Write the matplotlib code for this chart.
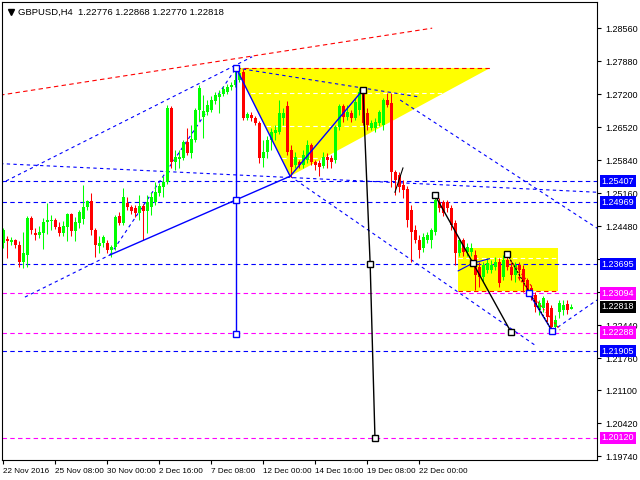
import matplotlib.pyplot as plt
from matplotlib.patches import Polygon, Rectangle

# GBPUSD H4 candles
opens = [1.2413, 1.2422, 1.2416, 1.2420, 1.2409, 1.2374, 1.2389, 1.2465, 1.2434, 1.2430,
         1.2434, 1.2457, 1.2459, 1.2461, 1.2447, 1.2434, 1.2447, 1.2473, 1.2438, 1.2455,
         1.2463, 1.2488, 1.2500, 1.2440, 1.2407, 1.2413, 1.2413, 1.2399, 1.2405, 1.2469,
         1.2455, 1.2496, 1.2488, 1.2486, 1.2475, 1.2490, 1.2479, 1.2488, 1.2498, 1.2516,
         1.2529, 1.2539, 1.2691, 1.2580, 1.2586, 1.2589, 1.2622, 1.2599, 1.2626, 1.2687,
         1.2673, 1.2683, 1.2687, 1.2706, 1.2714, 1.2720, 1.2725, 1.2735, 1.2739, 1.2749,
         1.2766, 1.2671, 1.2677, 1.2671, 1.2661, 1.2589, 1.2601, 1.2626, 1.2640, 1.2642,
         1.2671, 1.2696, 1.2605, 1.2574, 1.2580, 1.2574, 1.2584, 1.2615, 1.2580, 1.2578,
         1.2572, 1.2591, 1.2589, 1.2584, 1.2652, 1.2696, 1.2673, 1.2681, 1.2671, 1.2687,
         1.2723, 1.2681, 1.2650, 1.2650, 1.2661, 1.2657, 1.2708, 1.2702, 1.2560, 1.2554,
         1.2533, 1.2525, 1.2481, 1.2440, 1.2420, 1.2403, 1.2420, 1.2420, 1.2436, 1.2498,
         1.2498, 1.2498, 1.2486, 1.2455, 1.2393, 1.2420, 1.2395, 1.2395, 1.2389, 1.2364,
         1.2344, 1.2358, 1.2358, 1.2364, 1.2374, 1.2344, 1.2378, 1.2364, 1.2348, 1.2368,
         1.2360, 1.2337, 1.2321, 1.2306, 1.2275, 1.2280, 1.2290, 1.2280, 1.2241, 1.2271,
         1.2275, 1.2288, 1.22776]
highs = [1.2444, 1.2428, 1.2426, 1.2422, 1.2418, 1.2436, 1.2469, 1.2469, 1.2444, 1.2449,
         1.2465, 1.2496, 1.2471, 1.2465, 1.2457, 1.2459, 1.2475, 1.2475, 1.2467, 1.2481,
         1.2533, 1.2502, 1.2516, 1.2444, 1.2428, 1.2430, 1.2420, 1.2409, 1.2471, 1.2477,
         1.2527, 1.2508, 1.2492, 1.2492, 1.2512, 1.2494, 1.2512, 1.2519, 1.2539, 1.2537,
         1.2552, 1.2698, 1.2695, 1.2605, 1.2605, 1.2626, 1.2650, 1.2657, 1.2691, 1.2739,
         1.2718, 1.2708, 1.2716, 1.2725, 1.2729, 1.2737, 1.2741, 1.2745, 1.2770, 1.2776,
         1.2772, 1.2683, 1.2683, 1.2675, 1.2665, 1.2626, 1.2634, 1.2650, 1.2657, 1.2708,
         1.2691, 1.2706, 1.2615, 1.2601, 1.2584, 1.2605, 1.2626, 1.2619, 1.2584, 1.2584,
         1.2601, 1.2599, 1.2595, 1.2657, 1.2700, 1.2700, 1.2698, 1.2687, 1.2712, 1.2733,
         1.2729, 1.2691, 1.2667, 1.2671, 1.2687, 1.2712, 1.2723, 1.2723, 1.2564, 1.2560,
         1.2543, 1.2531, 1.2492, 1.2451, 1.2430, 1.2434, 1.2436, 1.2444, 1.2512, 1.2506,
         1.2502, 1.2502, 1.2492, 1.2461, 1.2424, 1.2424, 1.2413, 1.2413, 1.2399, 1.2374,
         1.2374, 1.2383, 1.2378, 1.2385, 1.2383, 1.2389, 1.2395, 1.2374, 1.2374, 1.2374,
         1.2368, 1.2342, 1.2327, 1.2313, 1.2296, 1.2304, 1.2296, 1.2286, 1.2265, 1.2296,
         1.2296, 1.2296, 1.22868]
lows = [1.2403, 1.2383, 1.2409, 1.2403, 1.2364, 1.2362, 1.2364, 1.2432, 1.2420, 1.2424,
        1.2401, 1.2432, 1.2440, 1.2442, 1.2428, 1.2428, 1.2418, 1.2428, 1.2418, 1.2444,
        1.2453, 1.2481, 1.2430, 1.2385, 1.2393, 1.2405, 1.2393, 1.2385, 1.2399, 1.2451,
        1.2451, 1.2481, 1.2473, 1.2467, 1.2461, 1.2420, 1.2434, 1.2471, 1.2492, 1.2510,
        1.2508, 1.2535, 1.2568, 1.2564, 1.2568, 1.2584, 1.2595, 1.2589, 1.2622, 1.2665,
        1.2630, 1.2677, 1.2683, 1.2700, 1.2681, 1.2716, 1.2720, 1.2729, 1.2735, 1.2745,
        1.2667, 1.2667, 1.2665, 1.2657, 1.2578, 1.2570, 1.2589, 1.2605, 1.2626, 1.2638,
        1.2657, 1.2595, 1.2549, 1.2568, 1.2568, 1.2568, 1.2578, 1.2574, 1.2564, 1.2552,
        1.2568, 1.2568, 1.2568, 1.2578, 1.2646, 1.2663, 1.2667, 1.2663, 1.2667, 1.2677,
        1.2657, 1.2646, 1.2646, 1.2642, 1.2655, 1.2646, 1.2694, 1.2529, 1.2512, 1.2519,
        1.2506, 1.2447, 1.2374, 1.2413, 1.2383, 1.2395, 1.2413, 1.2403, 1.2430, 1.2477,
        1.2469, 1.2477, 1.2440, 1.2368, 1.2387, 1.2387, 1.2387, 1.2387, 1.2317, 1.2323,
        1.2333, 1.2352, 1.2352, 1.2358, 1.2323, 1.2337, 1.2358, 1.2337, 1.2333, 1.2337,
        1.2313, 1.2306, 1.2296, 1.2271, 1.2265, 1.2271, 1.2251, 1.2234, 1.2234, 1.2259,
        1.2265, 1.2267, 1.22770]
closes = [1.2440, 1.2418, 1.2420, 1.2409, 1.2374, 1.2393, 1.2465, 1.2440, 1.2430, 1.2436,
          1.2457, 1.2461, 1.2461, 1.2447, 1.2434, 1.2449, 1.2473, 1.2438, 1.2457, 1.2477,
          1.2488, 1.2500, 1.2440, 1.2409, 1.2413, 1.2426, 1.2399, 1.2405, 1.2467, 1.2455,
          1.2508, 1.2488, 1.2479, 1.2475, 1.2490, 1.2479, 1.2498, 1.2508, 1.2519, 1.2531,
          1.2539, 1.2691, 1.2580, 1.2591, 1.2591, 1.2622, 1.2599, 1.2628, 1.2687, 1.2733,
          1.2685, 1.2698, 1.2708, 1.2718, 1.2720, 1.2731, 1.2735, 1.2739, 1.2749, 1.2764,
          1.2671, 1.2679, 1.2671, 1.2661, 1.2589, 1.2601, 1.2626, 1.2642, 1.2646, 1.2681,
          1.2681, 1.2601, 1.2570, 1.2591, 1.2574, 1.2595, 1.2615, 1.2580, 1.2574, 1.2570,
          1.2591, 1.2584, 1.2580, 1.2652, 1.2696, 1.2673, 1.2683, 1.2671, 1.2704, 1.2725,
          1.2661, 1.2657, 1.2661, 1.2663, 1.2683, 1.2708, 1.2698, 1.2560, 1.2543, 1.2529,
          1.2523, 1.2461, 1.2436, 1.2420, 1.2399, 1.2426, 1.2430, 1.2440, 1.2502, 1.2486,
          1.2475, 1.2486, 1.2451, 1.2393, 1.2420, 1.2395, 1.2405, 1.2403, 1.2348, 1.2344,
          1.2368, 1.2372, 1.2368, 1.2374, 1.2331, 1.2378, 1.2364, 1.2348, 1.2368, 1.2358,
          1.2333, 1.2317, 1.2302, 1.2282, 1.2290, 1.2300, 1.2261, 1.2241, 1.2255, 1.2290,
          1.2286, 1.2275, 1.22818]

date_labels = ['22 Nov 2016', '25 Nov 08:00', '30 Nov 00:00', '2 Dec 16:00', '7 Dec 08:00',
               '12 Dec 00:00', '14 Dec 16:00', '19 Dec 08:00', '22 Dec 00:00']
date_bars = [0, 13, 26, 39, 52, 65, 78, 91, 104]
price_ticks = [1.28560, 1.27880, 1.27200, 1.26520, 1.25840, 1.25160, 1.24480, 1.23800,
               1.23120, 1.22440, 1.21760, 1.21100, 1.20420, 1.19740]
hidden_ticks = [1.23800, 1.23120]  # covered by the level boxes

blue_levels = [1.25407, 1.24969, 1.23695, 1.21905]
magenta_levels = [1.23094, 1.22288, 1.20120]
last_price = 1.22818

# analysis objects, (bar, price) anchors
red_trend = [(-0.8, 1.2718), (107.2, 1.2856)]
triangle = [(58.2, 1.2774), (121.7, 1.2774), (71.7, 1.2551)]
triangle_levels = [1.2722, 1.2654, 1.2589]
box_bars = (113.7, 138.7)
box_prices = (1.2315, 1.2403)
box_level = 1.2383
blue_vertical = [(58.2, 1.2774), (58.2, 1.2502), (58.2, 1.2226)]
blue_path = [(26.7, 1.2389), (71.7, 1.2551), (89.9, 1.2729)]
blue_leg = [(58.2, 1.2774), (71.7, 1.2551)]
black_drop1 = [(89.9, 1.2729), (91.7, 1.2370), (92.9, 1.2012)]
black_drop2 = [(107.9, 1.2512), (117.4, 1.2372), (126.9, 1.2230)]
black_leg = [(125.9, 1.2391), (137.2, 1.2232)]
black_tick = [(97.9, 1.2518), (99.9, 1.2568)]
blue_leg2 = [(131.4, 1.2310), (137.2, 1.2232)]
blue_leg3 = [(113.7, 1.2356), (117.4, 1.2372), (121.5, 1.2381)]
red_zigzag = [
    [(126.7, 1.2378), (132.2, 1.2323)],
    [(128.7, 1.2343), (139.2, 1.2234)],
]
dashed_lines = [
    [(71.7, 1.2551), (132.9, 1.2203)],
    [(58.2, 1.2774), (104.2, 1.2714)],
    [(-0.8, 1.2535), (62.2, 1.2797)],
    [(26.7, 1.2389), (58.2, 1.2774)],
    [(-0.8, 1.2577), (148.4, 1.2518)],
    [(5.4, 1.2302), (26.7, 1.2389)],
    [(99.2, 1.2708), (148.4, 1.2444)],
    [(137.2, 1.2232), (148.4, 1.2296)],
]

BLUE = '#0000ff'
MAGENTA = '#ff00ff'
FONT = ['Liberation Sans', 'DejaVu Sans']

fig = plt.figure(figsize=(6.4, 4.8), dpi=100)
ax = fig.add_axes([2 / 640, 20 / 480, 595 / 640, 458 / 480])
ax.set_xlim(-0.325, 148.4)
ax.set_ylim(1.19664, 1.29099)

# yellow objects in the background
ax.add_patch(Polygon(triangle, closed=True, facecolor='#ffff00', edgecolor='none', zorder=0))
ax.add_patch(Rectangle((box_bars[0], box_prices[0]), box_bars[1] - box_bars[0],
                       box_prices[1] - box_prices[0], facecolor='#ffff00', edgecolor='none', zorder=0))
tri_clip = Polygon(triangle, closed=True, transform=ax.transData)
for lv in triangle_levels:
    ln, = ax.plot([58, 122], [lv, lv], color='white', lw=0.8, dashes=(4, 3), zorder=0.5)
    ln.set_clip_path(tri_clip)
ax.plot([triangle[0][0], triangle[1][0]], [triangle[0][1], triangle[1][1]],
        color='red', lw=0.8, dashes=(4, 3), zorder=0.5)
ax.plot(box_bars, [box_level, box_level], color='white', lw=0.8, dashes=(4, 3), zorder=0.5)
ax.plot(box_bars, [box_prices[0], box_prices[0]], color='red', lw=0.8, dashes=(4, 3), zorder=0.5)

# horizontal levels
for lv in blue_levels:
    ax.axhline(lv, color=BLUE, lw=0.8, dashes=(4, 3), zorder=1)
for lv in magenta_levels:
    ax.axhline(lv, color=MAGENTA, lw=0.8, dashes=(4, 3), zorder=1)

ax.plot(*zip(*red_trend), color='red', lw=0.8, dashes=(4, 3), zorder=1)
for seg in dashed_lines:
    ax.plot(*zip(*seg), color=BLUE, lw=0.8, dashes=(3, 3), zorder=1)

# candles
x = list(range(len(opens)))
cols = ['#00ff00' if c >= o else '#ff0000' for o, c in zip(opens, closes)]
ax.vlines(x, lows, highs, colors=cols, lw=0.75, zorder=2)
ax.bar(x, [max(abs(c - o), 0.00008) for o, c in zip(opens, closes)],
       bottom=[min(o, c) for o, c in zip(opens, closes)], width=0.75, color=cols, zorder=2)

# wave lines with square markers
for seg in red_zigzag:
    ax.plot(*zip(*seg), color='red', lw=0.8, dashes=(2, 2), zorder=3)
ax.plot(*zip(*blue_vertical), color=BLUE, lw=1, zorder=3)
ax.plot(*zip(*blue_path), color=BLUE, lw=1, zorder=3)
ax.plot(*zip(*blue_leg), color=BLUE, lw=1, zorder=3)
ax.plot(*zip(*blue_leg2), color=BLUE, lw=1, zorder=3)
ax.plot(*zip(*blue_leg3), color=BLUE, lw=0.8, zorder=3)
ax.plot(*zip(*black_drop1), color='black', lw=1, zorder=3)
ax.plot(*zip(*black_drop2), color='black', lw=1, zorder=3)
ax.plot(*zip(*black_tick), color='black', lw=0.8, zorder=3)
ax.plot(*zip(*black_leg), color='black', lw=0.8, dashes=(2, 1), zorder=3)
sq = dict(marker='s', ms=4, mfc='white', lw=0, zorder=4)
ax.plot(*zip(*blue_vertical), mec=BLUE, **sq)
ax.plot(*zip(*black_drop1), mec='black', **sq)
ax.plot(*zip(*black_drop2), mec='black', **sq)
ax.plot([black_leg[0][0]], [black_leg[0][1]], mec='black', **sq)
ax.plot([blue_leg2[0][0], blue_leg2[1][0]], [blue_leg2[0][1], blue_leg2[1][1]], mec=BLUE, **sq)

# axes styling
for side in ['left', 'top', 'right', 'bottom']:
    ax.spines[side].set_linewidth(0.8)
ax.yaxis.tick_right()
ax.set_yticks(price_ticks)
ax.set_yticklabels(['' if p in hidden_ticks else '%.5f' % p for p in price_ticks])
ax.set_xticks(date_bars)
ax.set_xticklabels(date_labels, ha='left')
ax.tick_params(axis='both', direction='out', length=3, width=0.8, labelsize=6.5)
ax.tick_params(axis='y', pad=3)
ax.tick_params(axis='x', pad=3, labelsize=5.9)
for lab in ax.get_xticklabels() + ax.get_yticklabels():
    lab.set_fontfamily(FONT)

tr = ax.get_yaxis_transform()
for lv in blue_levels:
    ax.text(1.008, lv, '%.5f' % lv, transform=tr, color='white', fontsize=6.5, va='center',
            family=FONT, bbox=dict(facecolor=BLUE, edgecolor='none', pad=1.2), zorder=5)
for lv in magenta_levels:
    ax.text(1.008, lv, '%.5f' % lv, transform=tr, color='white', fontsize=6.5, va='center',
            family=FONT, bbox=dict(facecolor=MAGENTA, edgecolor='none', pad=1.2), zorder=5)
ax.text(1.008, last_price, '%.5f' % last_price, transform=tr, color='white', fontsize=6.5,
        va='center', family=FONT,
        bbox=dict(facecolor='black', edgecolor='none', pad=1.2), zorder=5)

ax.plot([0.015], [0.978], marker='v', color='black', ms=4, transform=ax.transAxes, clip_on=False)
ax.text(0.027, 0.978, 'GBPUSD,H4  1.22776 1.22868 1.22770 1.22818', transform=ax.transAxes,
        fontsize=6.8, va='center', family=FONT)

fig.savefig('out.png', dpi=100, facecolor='white')
